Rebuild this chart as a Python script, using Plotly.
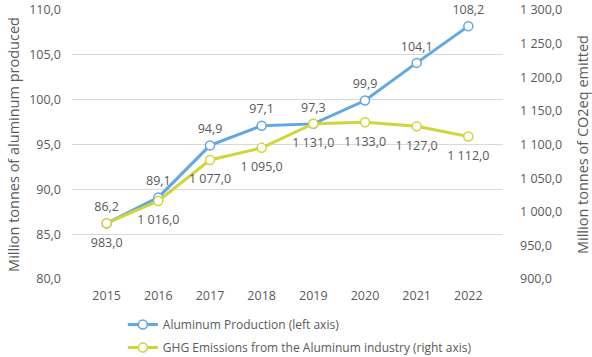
import plotly.graph_objects as go

years = ["2015", "2016", "2017", "2018", "2019", "2020", "2021", "2022"]
production = [86.2, 89.1, 94.9, 97.1, 97.3, 99.9, 104.1, 108.2]
emissions = [983.0, 1016.0, 1077.0, 1095.0, 1131.0, 1133.0, 1127.0, 1112.0]

BLUE = "#62A6E3"
YELLOW = "#D0D53A"
GREY = "#595959"
FONT = "Open Sans"

fig = go.Figure()
fig.add_trace(go.Scatter(
    x=years, y=production, name="Aluminum Production (left axis)",
    mode="lines+markers", legendgroup="a",
    line=dict(color=BLUE, width=3),
    marker=dict(symbol="circle", size=9, color="white", line=dict(color=BLUE, width=1.5)),
    cliponaxis=False, yaxis="y",
))
fig.add_trace(go.Scatter(
    x=years, y=emissions, name="GHG Emissions from the Aluminum industry (right axis)",
    mode="lines+markers", legendgroup="b",
    line=dict(color=YELLOW, width=3),
    marker=dict(symbol="circle", size=9, color="white", line=dict(color=YELLOW, width=1.5)),
    cliponaxis=False, yaxis="y2",
))
# data labels (invisible larger markers set the label offset)
fig.add_trace(go.Scatter(
    x=years, y=production, mode="markers+text", showlegend=False, hoverinfo="skip",
    marker=dict(size=13, color="rgba(0,0,0,0)"),
    texttemplate="%{y:,.1f}", textposition="top center",
    textfont=dict(color=GREY, size=12.5, family=FONT),
    cliponaxis=False, yaxis="y",
))
fig.add_trace(go.Scatter(
    x=years, y=emissions, mode="markers+text", showlegend=False, hoverinfo="skip",
    marker=dict(size=21, color="rgba(0,0,0,0)"),
    texttemplate="%{y:,.1f}", textposition="bottom center",
    textfont=dict(color=GREY, size=12.5, family=FONT),
    cliponaxis=False, yaxis="y2",
))

fig.update_layout(
    width=592, height=357,
    separators=", ",
    paper_bgcolor="white", plot_bgcolor="white",
    font=dict(family=FONT, color=GREY, size=12),
    margin=dict(l=72, r=89, t=10, b=78, autoexpand=False),
    xaxis=dict(type="category", showgrid=False, showline=False, ticks="", automargin=False,
               ticklabelstandoff=7, tickfont=dict(size=12.5, color=GREY)),
    yaxis=dict(range=[80, 110], dtick=5, tickformat=",.1f", showgrid=True, automargin=False,
               gridcolor="#D9D9D9", gridwidth=1, zeroline=False, ticks="", ticklabelstandoff=10,
               title=dict(text="Million tonnes of aluminum produced", font=dict(size=14.5, color=GREY), standoff=6),
               tickfont=dict(size=12.5, color=GREY)),
    yaxis2=dict(range=[900, 1300], dtick=50, tickformat=",.1f", overlaying="y", side="right",
                showgrid=False, zeroline=False, ticks="", automargin=False, ticklabelstandoff=16,
                title=dict(text="Million tonnes of CO2eq emitted", font=dict(size=14.5, color=GREY), standoff=16),
                tickfont=dict(size=12.5, color=GREY)),
    showlegend=True,
    legend=dict(orientation="v", x=0.118, xanchor="left", y=-0.115, yanchor="top",
                font=dict(size=12, color=GREY), bgcolor="rgba(0,0,0,0)",
                itemwidth=30, tracegroupgap=4),
)

fig.write_html("out.html", config={"displayModeBar": False},
               post_script="document.body.style.margin='0';document.body.style.padding='0';")
